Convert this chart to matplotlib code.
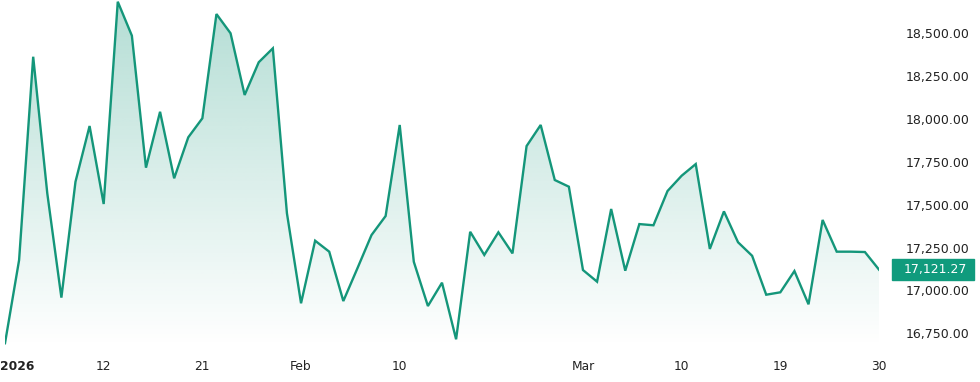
import numpy as np
import matplotlib.pyplot as plt
import matplotlib.transforms as mtransforms
from matplotlib.patches import Rectangle
from matplotlib.path import Path

# daily closes, weekdays from 2026-01-01 to 2026-03-30
closes = [16692, 17177, 18363, 17566, 16958, 17634, 17959, 17504, 18684, 18486,
          17716, 18042, 17654, 17893, 18004, 18612, 18500, 18140, 18331, 18412,
          17450, 16925, 17290, 17226, 16938, 17129, 17323, 17434, 17965, 17167,
          16909, 17045, 16715, 17342, 17207, 17339, 17216, 17842, 17965, 17644,
          17605, 17119, 17051, 17475, 17115, 17387, 17380, 17580, 17669, 17737,
          17242, 17461, 17281, 17202, 16975, 16989, 17113, 16919, 17411, 17226,
          17226, 17224, 17121.27]
tick_pos = [0.85, 7, 14, 21, 28, 41, 48, 55, 62]
tick_labels = ['2026', '12', '21', 'Feb', '10', 'Mar', '10', '19', '30']
y_ticks = [16750, 17000, 17250, 17500, 17750, 18000, 18250, 18500]

line_col = '#14967a'
badge_col = '#109b7d'
text_col = '#222222'

x = np.arange(len(closes))
ybot, ytop = 16670, 18694

fig = plt.figure(figsize=(9.8, 3.82), dpi=100)
ax = fig.add_axes([5 / 980, 1 - 347 / 382, 874 / 980, 347 / 382])

# gradient fill under the line
grad = np.zeros((256, 2, 4))
r, g, b = [int(line_col[i:i + 2], 16) / 255 for i in (1, 3, 5)]
grad[..., 0], grad[..., 1], grad[..., 2] = r, g, b
grad[..., 3] = np.linspace(0.32, 0.0, 256)[:, None]
im = ax.imshow(grad, extent=[0, len(closes) - 1, ybot, ytop], aspect='auto',
               origin='upper', interpolation='bilinear', zorder=1)
verts = np.vstack([[0, ybot], np.column_stack([x, closes]), [x[-1], ybot]])
im.set_clip_path(Path(verts), transform=ax.transData)

ax.plot(x, closes, color=line_col, lw=1.7, zorder=3, solid_joinstyle='miter')

ax.set_xlim(0, len(closes) - 1)
ax.set_ylim(ybot, ytop)

for s in ax.spines.values():
    s.set_visible(False)

ax.set_xticks(tick_pos)
ax.set_xticklabels(tick_labels)
ax.tick_params(axis='x', length=0, pad=9.5, labelsize=8.8, labelcolor=text_col)
ax.get_xticklabels()[0].set_fontweight('bold')

ax.yaxis.tick_right()
ax.set_yticks(y_ticks)
ax.set_yticklabels([f'{v:,.2f}' for v in y_ticks])
ax.tick_params(axis='y', length=0, pad=19, labelsize=9, labelcolor=text_col)

# last value badge
last = closes[-1]
trans = mtransforms.blended_transform_factory(fig.transFigure, ax.transData)
px = (ytop - ybot) / 347
ax.add_patch(Rectangle((892 / 980, last - 10.5 * px), 82 / 980, 21 * px,
                       transform=trans, color=badge_col, clip_on=False, zorder=5))
ax.text(935 / 980, last, f'{last:,.2f}', transform=trans, ha='center', va='center',
        color='white', fontsize=9, zorder=6, clip_on=False)

fig.savefig('out.png', dpi=100)
